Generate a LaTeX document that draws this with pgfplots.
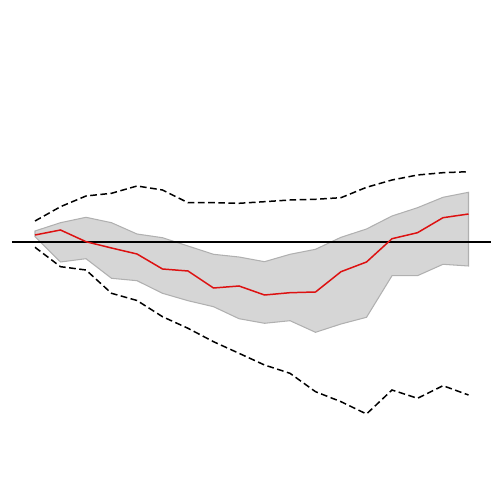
\documentclass[border=0pt]{standalone}
\usepackage{pgfplots}
\pgfplotsset{compat=1.18}
\definecolor{bandfill}{HTML}{D6D6D6}
\definecolor{bandedge}{HTML}{B0B0B0}
\definecolor{redline}{HTML}{DD1111}
\begin{document}
\begin{tikzpicture}
\begin{axis}[
  hide axis, scale only axis,
  width=10cm, height=10cm,
  xmin=-1.3725, xmax=18.235,
  ymin=-500, ymax=0,
  clip=false,
]
\path (rel axis cs:0,0) rectangle (rel axis cs:1,1);
% band
\addplot[fill=bandfill, draw=bandedge, line width=0.6pt] coordinates {
(0,-231) (1,-222.7) (2,-217.3) (3,-222.7) (4,-234) (5,-237.7) (6,-246) (7,-254.3) (8,-257) (9,-261.7) (10,-254.3) (11,-249.3) (12,-237.3) (13,-229) (14,-216) (15,-207.7) (16,-197.3) (17,-192.3)
(17,-266) (16,-264.3) (15,-275.7) (14,-275.7) (13,-317.3) (12,-324) (11,-332.3) (10,-320.7) (9,-323.3) (8,-318.7) (7,-306.7) (6,-300.7) (5,-293.3) (4,-280.7) (3,-278.3) (2,-258.7) (1,-262) (0,-236.7)
} -- cycle;
% zero line
\addplot[black, line width=0.85pt] coordinates {(-0.902,-242) (17.88,-242)};
% upper dashed
\addplot[black, line width=0.85pt, dash pattern=on 3.8pt off 2pt] coordinates {
(0,-221) (1,-206.7) (2,-196) (3,-193.3) (4,-186) (5,-190) (6,-202.7) (7,-202.7) (8,-203.3) (9,-201.7) (10,-200) (11,-199.3) (12,-197.7) (13,-187.3) (14,-180) (15,-175) (16,-172.7) (17,-171.7)
};
% lower dashed
\addplot[black, line width=0.85pt, dash pattern=on 3.8pt off 2pt] coordinates {
(0,-247.3) (1,-266.7) (2,-270) (3,-293.3) (4,-300.5) (5,-316.7) (6,-328.3) (7,-341.7) (8,-353.3) (9,-365) (10,-373.3) (11,-391.7) (12,-401.7) (13,-414) (14,-390) (15,-398.3) (16,-385.7) (17,-395)
};
% red line
\addplot[redline, line width=0.85pt] coordinates {
(0,-235) (1,-230) (2,-241.7) (3,-248) (4,-254) (5,-269) (6,-271) (7,-288) (8,-286) (9,-295) (10,-292.7) (11,-292) (12,-271.7) (13,-262) (14,-238.7) (15,-232.7) (16,-217.7) (17,-214)
};
\end{axis}
\end{tikzpicture}
\end{document}
